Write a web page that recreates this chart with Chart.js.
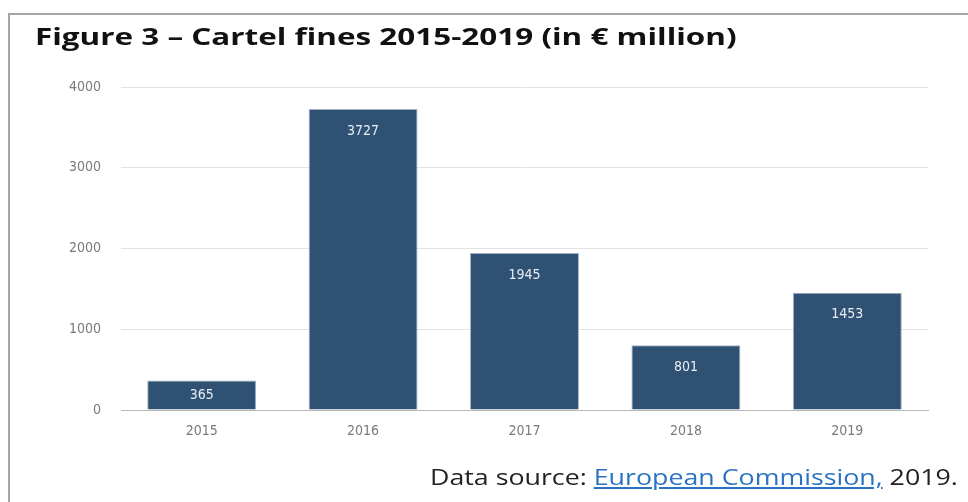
<!DOCTYPE html>
<html lang="en">
<head>
  <meta charset="UTF-8" />
  <title>Cartel fines 2015-2019</title>
  <script src="https://cdn.jsdelivr.net/npm/chart.js"></script>
  <style>
    html,body{margin:0;padding:0;background:#fff}
    body{width:968px;height:502px;position:relative;overflow:hidden}
    .frame{position:absolute;left:8px;top:13px;width:1000px;height:600px;border-left:2px solid #a6a6a6;border-top:2px solid #a6a6a6}
    .title{position:absolute;left:35px;top:19px;font-family:"Open Sans",Arial,sans-serif;font-weight:700;font-size:24px;color:#111;white-space:nowrap;transform-origin:0 0}
    .source{position:absolute;left:430px;top:461px;font-family:"Open Sans",Arial,sans-serif;font-size:22px;color:#222;white-space:nowrap;transform-origin:0 0}
    .source a{color:#2a72c4;text-decoration:underline}
    #wrap{position:absolute;left:0;top:0;width:968px;height:502px}
  </style>
</head>
<body>
  <div class="frame"></div>
  <div id="wrap"><canvas id="fines"></canvas></div>
  <div class="title" id="title" data-w="702">Figure 3 – Cartel fines 2015-2019 (in € million)</div>
  <div class="source" id="source" data-w="528">Data source: <a href="#">European Commission,</a> 2019.</div>

<script>
const years = ['2015', '2016', '2017', '2018', '2019'];
const fines = [365, 3727, 1945, 801, 1453];
const yTicks = [0, 1000, 2000, 3000, 4000];

const BAR = '#2f5173';
const TICK_FONT = {family: '"DejaVu Sans Condensed","Liberation Sans Narrow",Roboto,sans-serif', size: 14};

// stretch the html text to the widths seen in the picture
document.querySelectorAll('[data-w]').forEach(el=>{
  const w = parseFloat(el.dataset.w);
  el.style.transform = `scaleX(${w/el.offsetWidth})`;
});

// values written inside the top of each bar
const barLabels = {
  id: 'barLabels',
  afterDatasetsDraw(chart){
    const ctx = chart.ctx;
    const meta = chart.getDatasetMeta(0);
    ctx.save();
    ctx.fillStyle = '#e8edf3';
    ctx.font = '14px ' + TICK_FONT.family;
    ctx.textAlign = 'center';
    ctx.textBaseline = 'middle';
    meta.data.forEach((bar, i)=>{
      const h = bar.base - bar.y;
      const off = Math.min(22, h/2);
      ctx.fillText(String(fines[i]), bar.x, bar.y + off);
    });
    ctx.restore();
  }
};

new Chart(document.getElementById('fines'), {
  type: 'bar',
  data: {
    labels: years,
    datasets: [{
      data: fines,
      backgroundColor: BAR,
      borderColor: '#9fb0c2',
      borderWidth: {top: 1, left: 1, right: 1, bottom: 0},
      categoryPercentage: 1,
      barPercentage: 0.675
    }]
  },
  options: {
    responsive: true,
    maintainAspectRatio: false,
    animation: false,
    layout: {padding: {left: 61, right: 40, top: 87, bottom: 0}},
    plugins: {legend: {display: false}, tooltip: {enabled: false}},
    scales: {
      x: {
        grid: {display: false, drawTicks: false},
        border: {display: true, color: '#b8b8b8', width: 1},
        ticks: {color: '#7a7a7a', font: TICK_FONT, padding: 13},
        afterFit(s){ s.height = 92; }
      },
      y: {
        min: 0, max: 4000,
        afterBuildTicks(s){ s.ticks = yTicks.map(v=>({value: v})); },
        grid: {color: '#e3e3e3', drawTicks: false},
        border: {display: false},
        ticks: {color: '#7a7a7a', font: TICK_FONT, padding: 20, callback: v => String(v)},
        afterFit(s){ s.width = 60; }
      }
    }
  },
  plugins: [barLabels]
});
</script>
</body>
</html>
